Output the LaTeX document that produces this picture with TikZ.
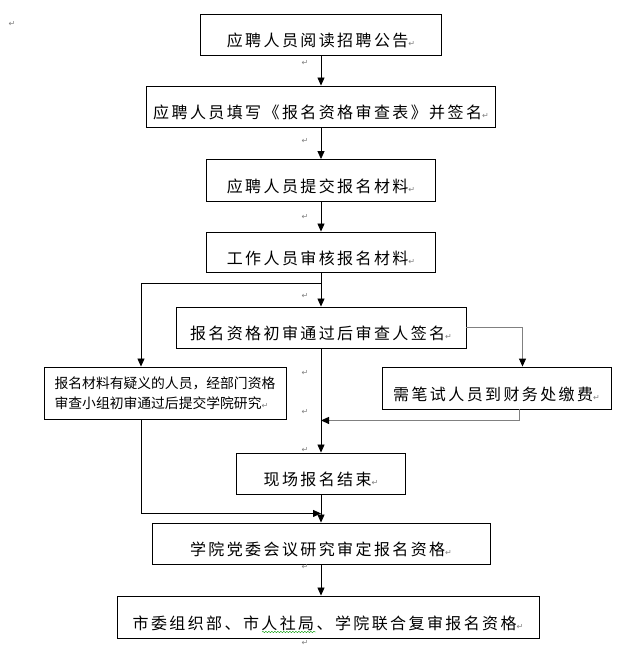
\documentclass[tikz,border=0pt]{standalone}
\usepackage{fontspec}
\setmainfont{Noto Sans CJK SC}
\newfontfamily\boxfont[LetterSpace=15]{Noto Sans CJK SC}
\newfontfamily\markfont{DejaVu Sans}
\usetikzlibrary{arrows.meta,decorations.pathmorphing}
\newcommand{\pmark}{{\markfont\fontsize{8}{8}\selectfont\color{gray}↵}}

\begin{document}
\begin{tikzpicture}[
  x=1pt,y=-1pt,
  box/.style={draw,line width=0.9pt,inner sep=0pt,minimum height=41pt,
              text height=24pt,text depth=0pt,
              font=\boxfont\fontsize{16}{20}\selectfont},
  smallbox/.style={draw,line width=0.9pt,inner sep=0pt,align=left,
                   font=\fontsize{13.8}{20}\selectfont},
  pm/.style={inner sep=0pt,font=\markfont\fontsize{8}{8}\selectfont,text=gray},
  ar/.style={-{Triangle[length=8pt,width=7pt]},line width=0.8pt},
  grar/.style={-{Triangle[length=8pt,width=7pt,black]},line width=1pt,draw=gray}]
\useasboundingbox (0,0) rectangle (630,649);
\node[box,minimum width=241pt] (read) at (321,34.5) {应聘人员阅读招聘公告\pmark};
\node[box,minimum width=349pt] (form) at (321,106.5) {应聘人员填写《报名资格审查表》并签名\pmark};
\node[box,minimum width=229pt,minimum height=42pt] (submit) at (321,180.5) {应聘人员提交报名材料\pmark};
\node[box,minimum width=229pt,minimum height=40pt] (check) at (321,252) {工作人员审核报名材料\pmark};
\node[box,minimum width=290pt] (sign) at (321,327.5) {报名资格初审通过后审查人签名\pmark};
\node[smallbox,minimum width=242pt,minimum height=52pt] (doubt) at (165,393)
  {报名材料有疑义的人员，经部门资格\\审查小组初审通过后提交学院研究\pmark};
\node[box,minimum width=229pt,minimum height=42pt] (fee) at (496.5,388) {需笔试人员到财务处缴费\pmark};
\node[box,minimum width=169pt] (close) at (321,473.5) {现场报名结束\pmark};
\node[box,minimum width=338pt] (party) at (321,543.5) {学院党委会议研究审定报名资格\pmark};
\node[box,minimum width=422pt,minimum height=42pt] (joint) at (328,617) {市委组织部、市人社局、学院联合复审报名资格\pmark};
\coordinate (split) at ([yshift=-11pt]check.south);
\coordinate (merge) at ([yshift=-19pt]close.south);
\draw[ar] (read) -- (form);
\draw[ar] (form) -- (submit);
\draw[ar] (submit) -- (check);
\draw[ar] (check) -- (sign);
\draw[ar] (split) -| ([xshift=-24pt]doubt.north);
\draw[grar] (sign.east) -| ([xshift=26pt]fee.north);
\draw[ar] (sign) -- (close);
\draw[grar] ([xshift=23pt]fee.south) |- ([yshift=-11pt]fee.south -| sign.south);
\draw[ar] ([xshift=-24pt]doubt.south) |- (merge);
\draw[ar] (close) -- (party);
\draw[ar] (party.south) -- (party.south |- joint.north);
\node[pm] (pm0) at (12,24) {↵};
\foreach \y [count=\i] in {63,141,217,296,373,412,450,567,643}
  \node[pm] (pm\i) at (305,\y) {↵};
\draw[green!60!black,decorate,decoration={snake,amplitude=0.7pt,segment length=3pt}]
  (262,632) -- (316,632);
\end{tikzpicture}
\end{document}
